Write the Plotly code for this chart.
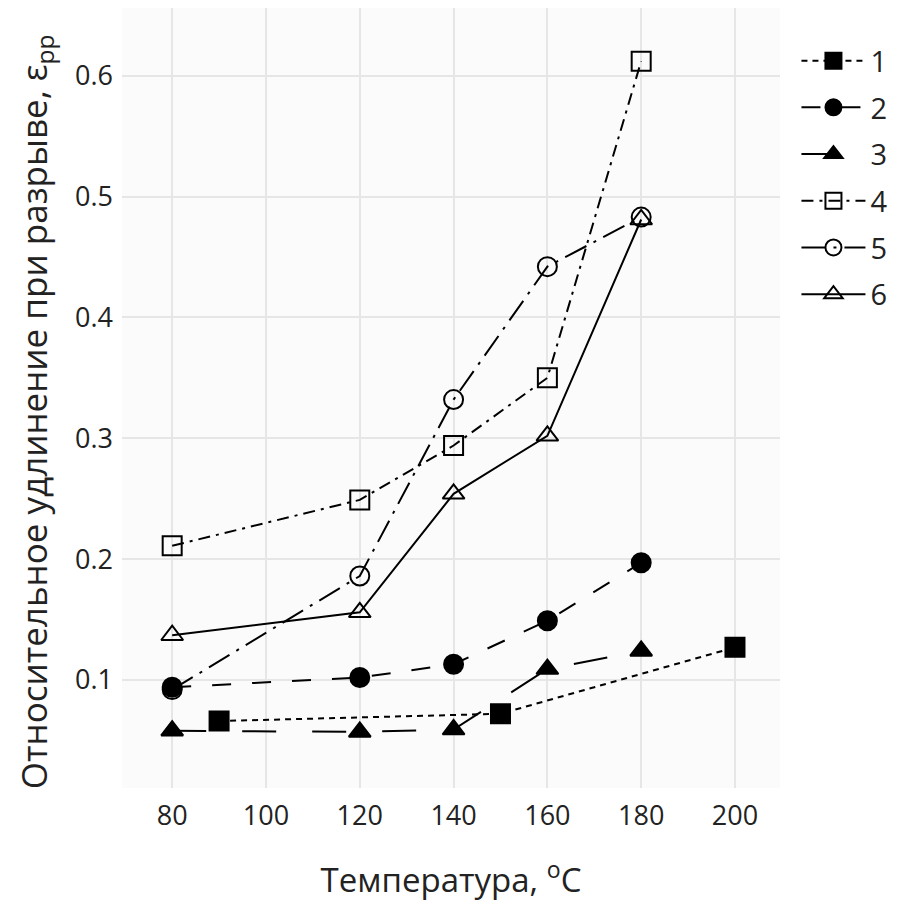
import plotly.graph_objects as go

x1 = [90, 150, 200]
y1 = [0.066, 0.072, 0.127]
x_main = [80, 120, 140, 160, 180]
y2 = [0.094, 0.102, 0.113, 0.149, 0.197]
y3 = [0.058, 0.057, 0.059, 0.109, 0.124]
y4 = [0.211, 0.249, 0.294, 0.350, 0.612]
y5 = [0.092, 0.186, 0.332, 0.442, 0.483]
y6 = [0.137, 0.156, 0.254, 0.302, 0.481]
names = ["1", "2", "3", "4", "5", "6"]

series = [
    (x1, y1, "square", "6px,5px"),
    (x_main, y2, "circle", "19px,21px"),
    (x_main, y3, "triangle-up", "34px,36px"),
    (x_main, y4, "square-open", "12px,6px,3px,6px"),
    (x_main, y5, "circle-open", "24px,8px,3px,8px"),
    (x_main, y6, "triangle-up-open", "solid"),
]

fig = go.Figure()
for name, (xs, ys, sym, dash) in zip(names, series):
    fig.add_trace(go.Scatter(
        x=xs, y=ys, name=name, mode="lines+markers", legendgroup=name,
        line=dict(color="black", width=2, dash=dash),
        marker=dict(symbol=sym, size=19, color="black",
                    line=dict(color="black", width=2)),
    ))

font = "Open Sans, sans-serif"
fig.add_annotation(
    text="Относительное удлинение при разрыве, ε<sub>pp</sub>",
    xref="paper", yref="paper", x=-0.132, y=0.482,
    xanchor="center", yanchor="middle", textangle=-90, showarrow=False,
    font=dict(size=35, family=font, color="#222"),
)
fig.update_layout(
    width=897, height=915,
    margin=dict(l=122, r=117, t=8, b=127, autoexpand=False),
    paper_bgcolor="white", plot_bgcolor="#fbfbfb",
    font=dict(family=font, size=27, color="#222"),
    showlegend=True,
    legend=dict(x=1.025, y=0.965, xanchor="left", yanchor="top",
                font=dict(size=29), bgcolor="rgba(0,0,0,0)",
                itemwidth=64, tracegroupgap=6),
    xaxis=dict(range=[69.3, 209.6], tickvals=[80, 100, 120, 140, 160, 180, 200],
               showgrid=True, gridcolor="#e6e6e6", gridwidth=1.5, zeroline=False,
               ticks="", showline=False, ticklabelstandoff=9,
               title=dict(text="Температура, <sup>o</sup>C", font=dict(size=33), standoff=36)),
    yaxis=dict(range=[0.0106, 0.656], tickvals=[0.1, 0.2, 0.3, 0.4, 0.5, 0.6],
               showgrid=True, gridcolor="#e6e6e6", gridwidth=1.5, zeroline=False,
               ticks="", showline=False, ticklabelstandoff=8),
)

fig.write_html("out.html")
